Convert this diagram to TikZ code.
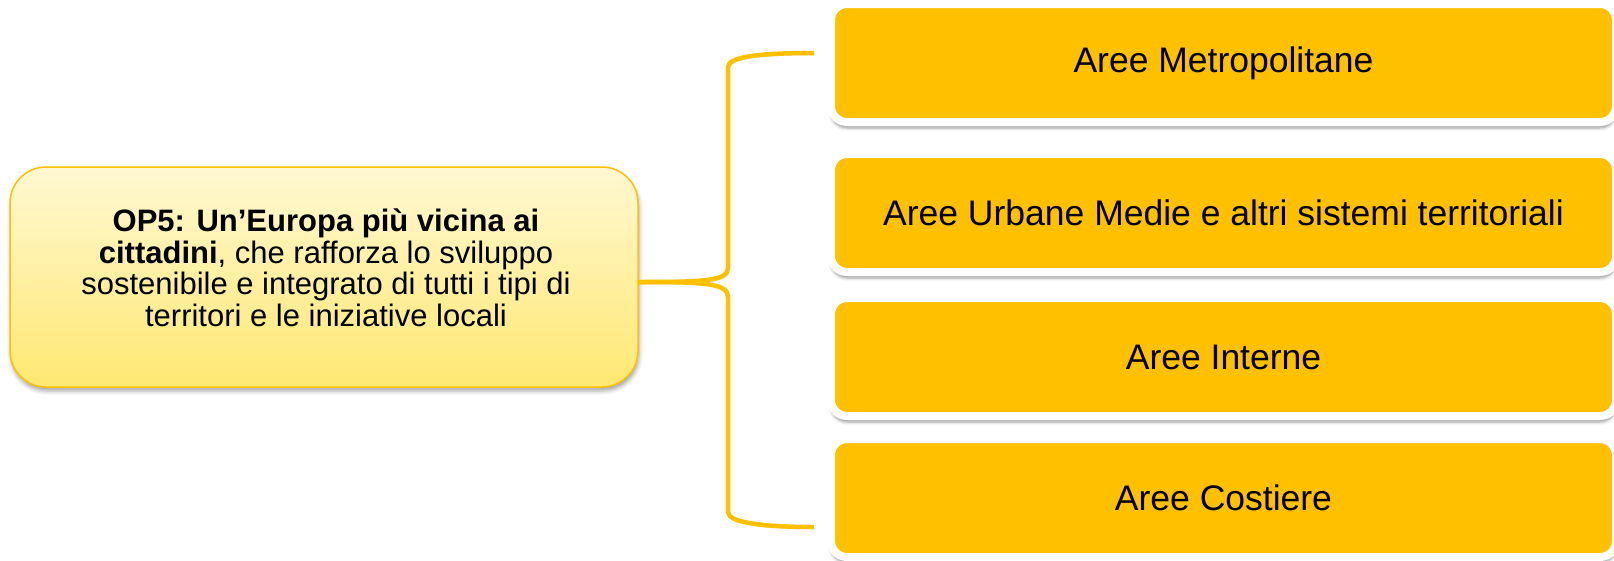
\documentclass[tikz,border=0pt]{standalone}
\usepackage{fontspec}
\setmainfont{Liberation Sans}
\usetikzlibrary{shadows.blur,calc}
\definecolor{gold}{HTML}{FFC000}
\definecolor{ltop}{HTML}{FFF8D2}
\definecolor{lbot}{HTML}{FFE872}
\begin{document}
\begin{tikzpicture}[x=1pt,y=-1pt,
  opbox/.style={draw=gold, line width=1.5pt, rounded corners=36pt, top color=ltop, bottom color=lbot,
    minimum width=628pt, minimum height=220pt, inner sep=0pt,
    blur shadow={shadow xshift=1pt, shadow yshift=-4pt, shadow blur radius=4pt, shadow opacity=35}},
  area/.style={draw=white, line width=8pt, fill=gold, rounded corners=16pt,
    minimum width=785pt, minimum height=118pt, inner sep=0pt, font=\fontsize{35.5}{40}\selectfont,
    blur shadow={shadow xshift=0pt, shadow yshift=-6pt, shadow blur radius=3pt, shadow opacity=40}},
  brace/.style={draw=gold, line width=4.5pt, line join=round,
    preaction={draw=black, opacity=0.15, transform canvas={xshift=1pt,yshift=-2pt}}},
  optxt/.style={align=center, font=\fontsize{31}{31.5}\selectfont}
]
\useasboundingbox (0,0) rectangle (1614,560);

\node[opbox] (op) at (324,277) {};
\node[optxt] (optext) at (326,268) {\textbf{OP5: Un’Europa più vicina ai}\\\textbf{cittadini}, che rafforza lo sviluppo\\sostenibile e integrato di tutti i tipi di\\territori e le iniziative locali};

\node[area] (m1) at (1223.5,63) {Aree Metropolitane};
\node[area] (m2) at (1223.5,213) {Aree Urbane Medie e altri sistemi territoriali};
\node[area] (m3) at (1223.5,357) {Aree Interne};
\node[area] (m4) at (1223.5,498) {Aree Costiere};

\coordinate (bm) at ([yshift=-5pt]op.east);
\coordinate (bt) at ([xshift=-13pt,yshift=10pt]m1.west);
\coordinate (bb) at ([xshift=-13pt,yshift=-29pt]m4.west);

\draw[brace] (bm) .. controls ([xshift=65pt]bm) and (728,281) .. (728,268) -- (728,67) .. controls (728,56) and (765,53) .. (bt);
\draw[brace] (bm) .. controls ([xshift=65pt]bm) and (728,283) .. (728,297) -- (728,512) .. controls (728,523) and (765,527) .. (bb);
\end{tikzpicture}
\end{document}
